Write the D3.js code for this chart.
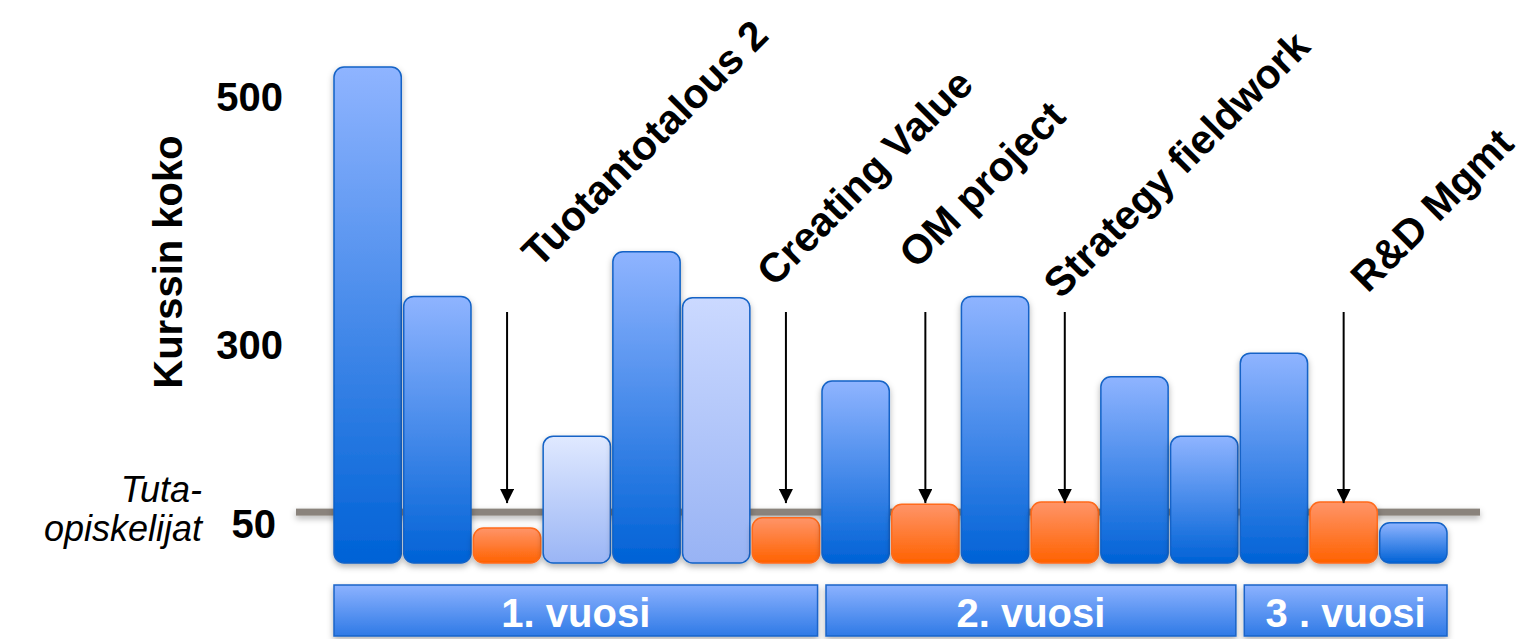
<!DOCTYPE html>
<html>
<head>
<meta charset="utf-8">
<script src="https://cdn.jsdelivr.net/npm/d3@7"></script>
<style>
  body { margin: 0; background: #fff; }
  svg { display: block; font-family: "Liberation Sans", Arial, sans-serif; }
</style>
</head>
<body>
<svg id="chart" width="1522" height="639"></svg>
<script>
//	data
// course sizes, one per bar
var barValues = [525, 340, 46, 174, 376, 339, 60, 251, 79, 340, 82, 257, 174, 290, 82, 53];
// kind of each bar: blue = normal, light = pale blue, tuta = orange
var barKinds = ["blue", "blue", "tuta", "light", "blue", "light2", "tuta", "blue",
                "tuta", "blue", "tuta", "blue", "blue", "blue", "tuta", "blue"];
// annotated (orange) courses
var annotatedBars = [2, 6, 8, 10, 14];
var annotationLabels = ["Tuotantotalous 2", "Creating Value", "OM project", "Strategy fieldwork", "R&D Mgmt"];
// study years
var yearLabels = ["1. vuosi", "2. vuosi", "3 . vuosi"];
var yearFirstBar = [0, 7, 13];
var yearLastBar = [6, 12, 15];
// y ticks and reference line
var tickValues = [50, 300, 500];
var tutaLevel = 68;

//	layout
var svg = d3.select("#chart"),
    baseY = 563;

// label anchor offsets from the top of each arrow (hand placed in the original)
var labelOffsets = [[32, -43], [-12, -24], [-9, -42], [-4, -12], [24, -18]];
var arrowTop = 312;

var x = d3.scaleBand()
    .domain(d3.range(barValues.length))
    .range([334, 1447])
    .paddingInner(0.035)
    .paddingOuter(0);

// the original axis is not linear, so piecewise
var y = d3.scaleLinear()
    .domain([0, 50, 300, 500])
    .range([baseY, 525, 346, 98]);

//	gradients and shadow
var defs = svg.append("defs");
function grad(id, c0, c1) {
    var g = defs.append("linearGradient").attr("id", id)
        .attr("x1", 0).attr("y1", 0).attr("x2", 0).attr("y2", 1);
    g.append("stop").attr("offset", 0).attr("stop-color", c0);
    g.append("stop").attr("offset", 1).attr("stop-color", c1);
}
grad("g-blue", "#8fb4ff", "#0062d6");
grad("g-light", "#e0e9ff", "#9ab5f5");
grad("g-light2", "#cbd9ff", "#98b3f4");
grad("g-tuta", "#ff9468", "#ff6200");
grad("g-year", "#8cb2ff", "#2f7ae6");

defs.append("filter").attr("id", "shadow")
    .attr("filterUnits", "userSpaceOnUse")
    .attr("x", 0).attr("y", 0).attr("width", 1522).attr("height", 639)
  .append("feDropShadow")
    .attr("dx", 0).attr("dy", 3).attr("stdDeviation", 3)
    .attr("flood-color", "#000").attr("flood-opacity", 0.3);

defs.append("marker").attr("id", "arrow")
    .attr("viewBox", "0 0 10 10").attr("refX", 10).attr("refY", 5)
    .attr("markerWidth", 7).attr("markerHeight", 7)
    .attr("markerUnits", "strokeWidth")
    .attr("orient", "auto")
  .append("path").attr("d", "M0,0 L10,5 L0,10 z").attr("fill", "#000");

var strokeOf = { blue: "#1262c6", light: "#1262c6", light2: "#1262c6", tuta: "#ff6a1a" };

//	reference line (behind the bars)
svg.append("rect")
    .attr("x", 296).attr("width", 1480 - 296)
    .attr("y", y(tutaLevel) - 3.5).attr("height", 7)
    .attr("fill", "#8a837b")
    .attr("filter", "url(#shadow)");

//	bars
svg.append("g").selectAll("rect")
    .data(barValues)
    .join("rect")
    .attr("x", function(d, i) { return x(i); })
    .attr("y", function(d) { return y(d); })
    .attr("width", x.bandwidth())
    .attr("height", function(d) { return baseY - y(d); })
    .attr("rx", 10).attr("ry", 10)
    .attr("fill", function(d, i) { return "url(#g-" + barKinds[i] + ")"; })
    .attr("stroke", function(d, i) { return strokeOf[barKinds[i]]; })
    .attr("stroke-width", 1.5)
    .attr("filter", "url(#shadow)");

//	y axis
var yAxis = svg.append("g")
    .attr("transform", "translate(290,0)")
    .call(d3.axisLeft(y).tickValues(tickValues).tickSize(0).tickPadding(7));
yAxis.select(".domain").remove();
yAxis.selectAll("text")
    .attr("font-size", 40).attr("font-weight", "bold").attr("fill", "#000")
    .attr("font-family", "Liberation Sans, Arial, sans-serif")
    .attr("dx", function(d) { return d === 50 ? -7 : 0; });

svg.append("text")
    .attr("transform", "translate(182,262) rotate(-90)")
    .attr("text-anchor", "middle")
    .attr("font-size", 40).attr("font-weight", "bold")
    .text("Kurssin koko");

var tuta = svg.append("text")
    .attr("text-anchor", "end")
    .attr("font-size", 36).attr("font-style", "italic");
tuta.append("tspan").attr("x", 202).attr("y", 502).text("Tuta-");
tuta.append("tspan").attr("x", 202).attr("y", 541).text("opiskelijat");

//	arrows and rotated course names
var ann = svg.append("g").selectAll("g")
    .data(annotatedBars)
    .join("g");

ann.append("line")
    .attr("x1", function(d) { return x(d) + x.bandwidth() / 2; })
    .attr("x2", function(d) { return x(d) + x.bandwidth() / 2; })
    .attr("y1", arrowTop)
    .attr("y2", y(tutaLevel) - 9)
    .attr("stroke", "#000").attr("stroke-width", 2)
    .attr("marker-end", "url(#arrow)");

ann.append("text")
    .attr("transform", function(d, i) {
        var cx = x(d) + x.bandwidth() / 2 + labelOffsets[i][0],
            cy = arrowTop + labelOffsets[i][1];
        return "translate(" + cx + "," + cy + ") rotate(-45)";
    })
    .attr("font-size", 41).attr("font-weight", "bold")
    .text(function(d, i) { return annotationLabels[i]; });

//	year bands
var years = svg.append("g").selectAll("g")
    .data(yearLabels)
    .join("g");

function yearX0(i) { return x(yearFirstBar[i]) + (i > 0 ? 4 : 0); }
function yearX1(i) { return x(yearLastBar[i]) + x.bandwidth() - (i < 2 ? 2 : 0); }

years.append("rect")
    .attr("x", function(d, i) { return yearX0(i); })
    .attr("y", 585)
    .attr("width", function(d, i) { return yearX1(i) - yearX0(i); })
    .attr("height", 51)
    .attr("fill", "url(#g-year)")
    .attr("stroke", "#1a64c8").attr("stroke-width", 1.5)
    .attr("filter", "url(#shadow)");

years.append("text")
    .attr("x", function(d, i) { return (yearX0(i) + yearX1(i)) / 2; })
    .attr("y", 627)
    .attr("text-anchor", "middle")
    .attr("font-size", 40).attr("font-weight", "bold")
    .attr("fill", "#fff")
    .text(function(d) { return d; });
</script>
</body>
</html>
